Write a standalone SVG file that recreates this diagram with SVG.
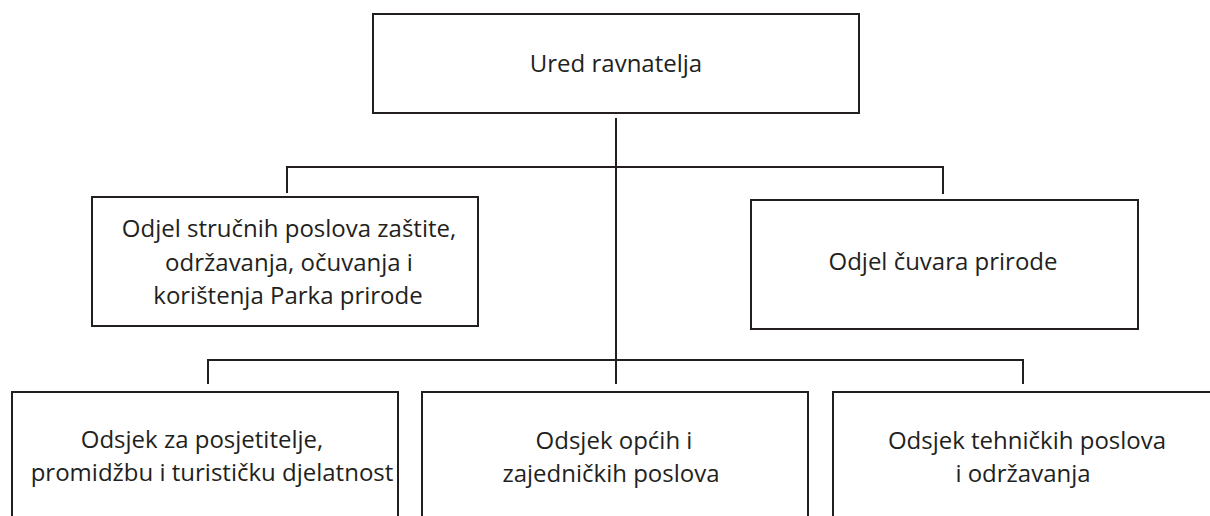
<svg xmlns="http://www.w3.org/2000/svg" width="1210" height="516" viewBox="0 0 1210 516">
<style>
rect{fill:#fff;stroke:#231f20;stroke-width:2}
.c line{stroke:#231f20;stroke-width:2}
text{font-family:"Open Sans","Noto Sans",sans-serif;font-size:24px;fill:#231f20;text-anchor:middle}
</style>
<rect x="0" y="0" width="1210" height="516" style="stroke:none"/>
<g class="c" id="connectors">
<line x1="616" y1="118" x2="616" y2="384"/>
<line x1="287" y1="167" x2="943" y2="167"/>
<line x1="287" y1="166" x2="287" y2="193"/>
<line x1="943" y1="166" x2="943" y2="194"/>
<line x1="208" y1="360" x2="1023" y2="360"/>
<line x1="208" y1="359" x2="208" y2="384"/>
<line x1="1023" y1="359" x2="1023" y2="384"/>
</g>
<g id="n-ured">
<rect x="373" y="14" width="486" height="99"/>
<text x="616" y="72">Ured ravnatelja</text>
</g>
<g id="n-odjel-strucnih">
<rect x="92" y="197" width="386" height="129"/>
<text x="289" y="237">Odjel stručnih poslova zaštite,</text>
<text x="289" y="271">održavanja, očuvanja i</text>
<text x="288" y="304">korištenja Parka prirode</text>
</g>
<g id="n-odjel-cuvara">
<rect x="751" y="200" width="387" height="129"/>
<text x="943" y="270">Odjel čuvara prirode</text>
</g>
<g id="n-odsjek-posjetitelje">
<rect x="12" y="392" width="386" height="140"/>
<text x="202" y="448">Odsjek za posjetitelje,</text>
<text x="212" y="481">promidžbu i turističku djelatnost</text>
</g>
<g id="n-odsjek-opcih">
<rect x="422" y="392" width="386" height="140"/>
<text x="614" y="449">Odsjek općih i</text>
<text x="611" y="482">zajedničkih poslova</text>
</g>
<g id="n-odsjek-tehnickih">
<rect x="833" y="392" width="400" height="140"/>
<text x="1027" y="449">Odsjek tehničkih poslova</text>
<text x="1023" y="482">i održavanja</text>
</g>
</svg>
